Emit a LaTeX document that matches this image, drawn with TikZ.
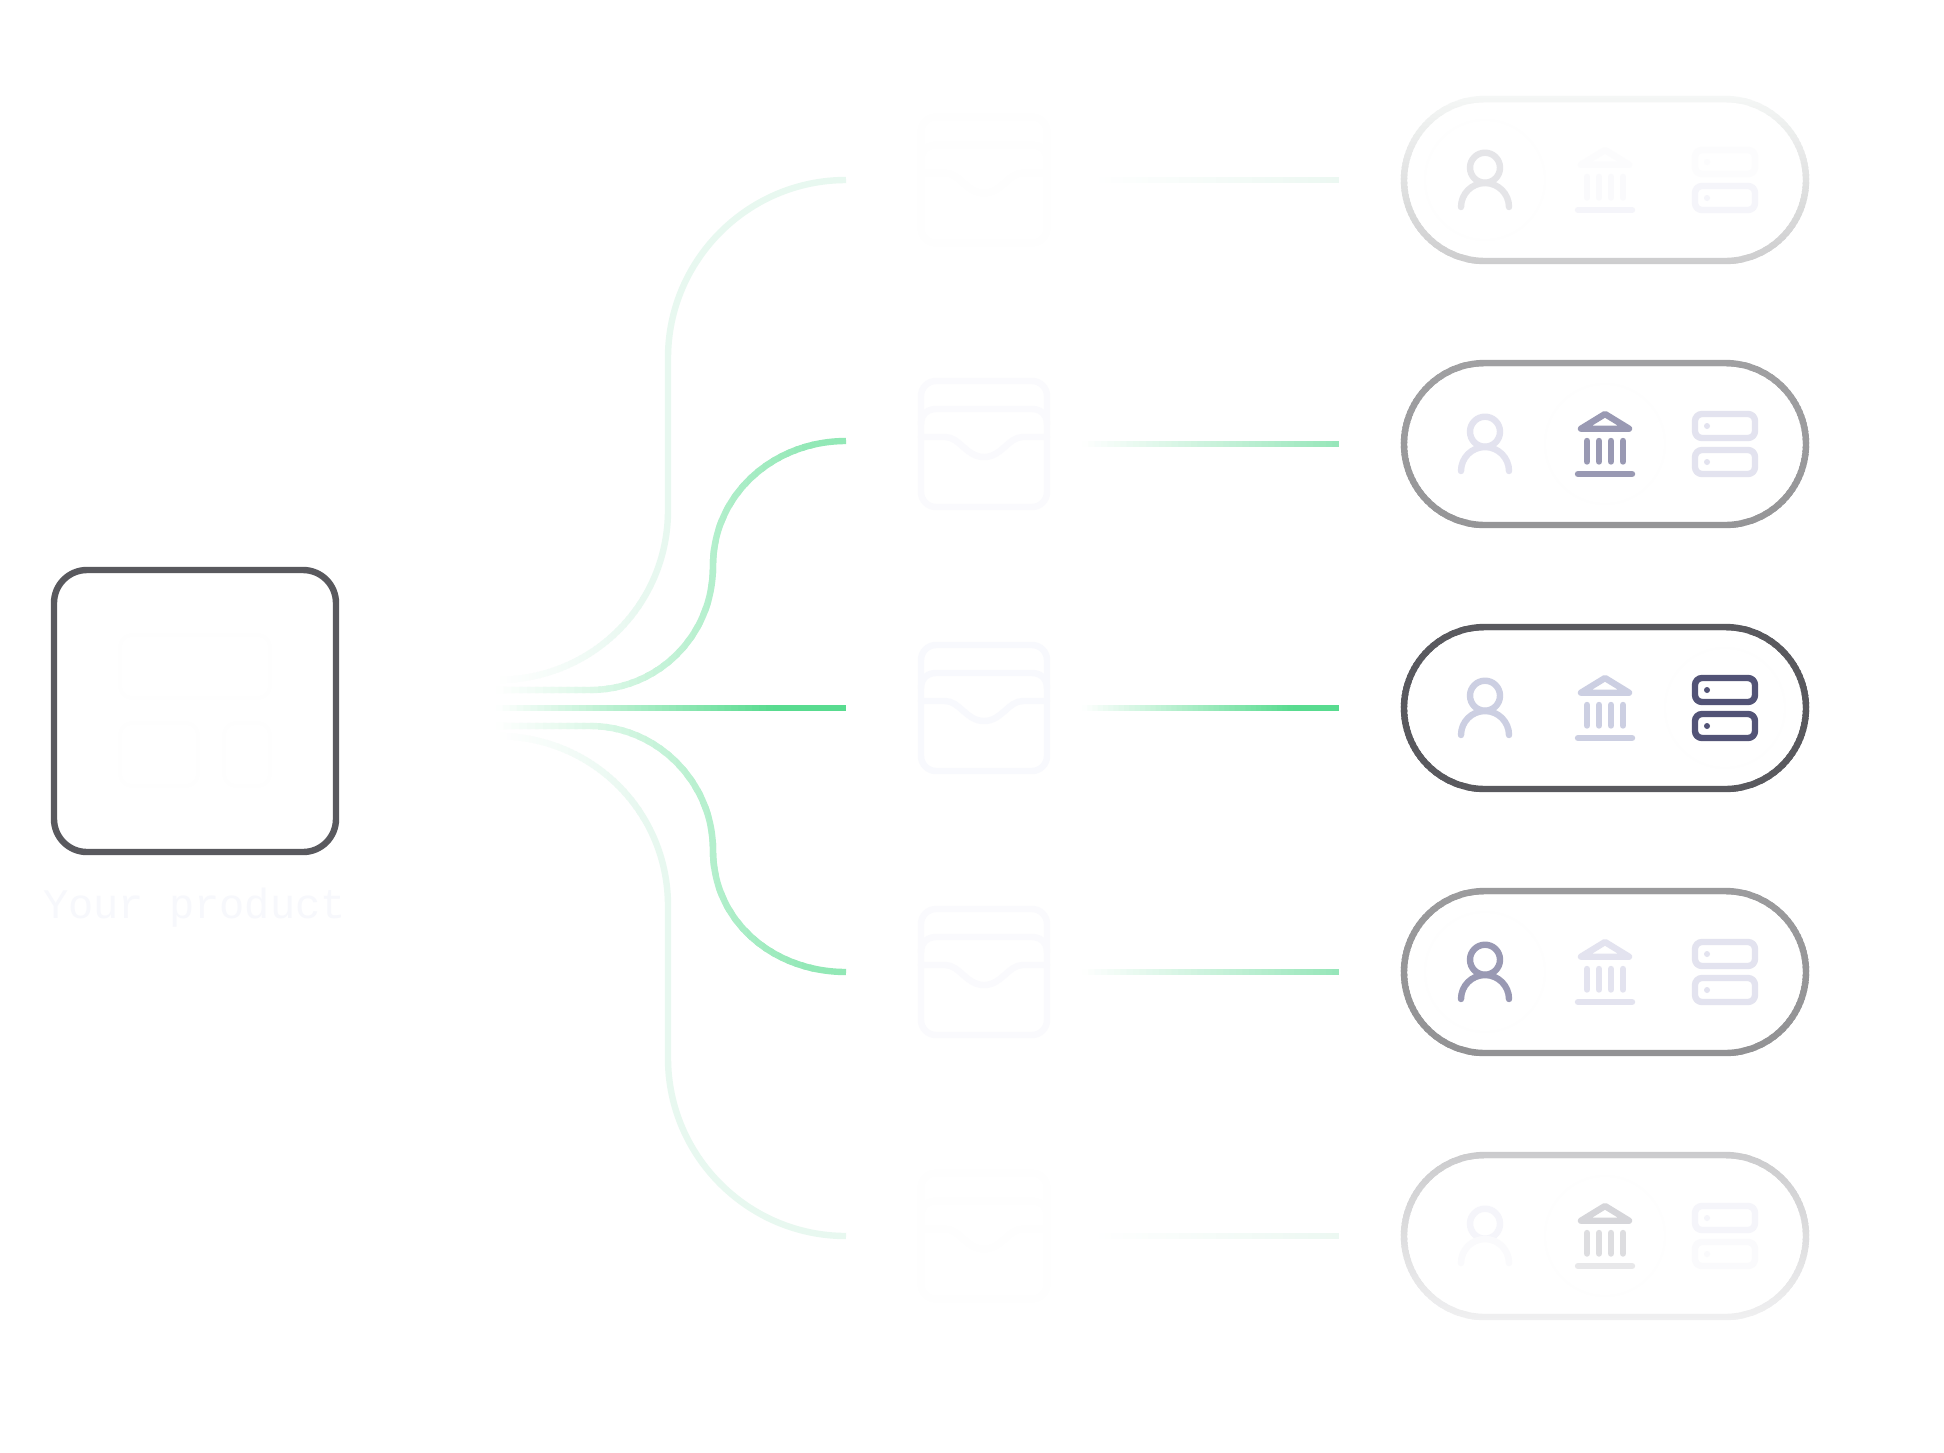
\documentclass[tikz,border=0pt]{standalone}
\usepackage{fontspec}
\setmonofont{Liberation Mono}
\usetikzlibrary{calc}
\definecolor{gFull}{HTML}{58DB8F}
\definecolor{gMid}{HTML}{92E8B6}
\definecolor{gMidR}{HTML}{96E6B9}
\definecolor{gPale}{HTML}{E8F8F0}
\definecolor{gPaleR}{HTML}{ECF8F2}
\definecolor{boxEdge}{HTML}{59595E}
\definecolor{txtGhost}{HTML}{F7F8FC}
\definecolor{icA}{HTML}{525376}
\definecolor{icB}{HTML}{9999B3}
\definecolor{icC}{HTML}{CCCFE2}
\definecolor{icD}{HTML}{E3E3EF}
\definecolor{icE}{HTML}{F5F5FA}
\definecolor{icF}{HTML}{FAFAFC}
\definecolor{icG}{HTML}{FCFCFD}
\definecolor{icH}{HTML}{E5E5E8}
\definecolor{icI}{HTML}{D6D6DA}
\definecolor{icJ}{HTML}{E8E8EA}
\definecolor{wallA}{HTML}{FEFEFE}
\definecolor{wallB}{HTML}{FAFAFD}
\definecolor{wallC}{HTML}{F8F9FD}
\definecolor{halo}{HTML}{FEFEFE}
\definecolor{pA}{HTML}{F5F7F6}
\definecolor{pB}{HTML}{CDCDCE}
\definecolor{pC}{HTML}{A0A0A2}
\definecolor{pD}{HTML}{959597}
\definecolor{pE}{HTML}{9B9B9D}
\definecolor{pF}{HTML}{929294}
\definecolor{pG}{HTML}{CBCBCD}
\definecolor{pH}{HTML}{F0F0F1}
\tikzset{
  conn/.style={line width=6.4pt},
  icon/.style={line width=6.4pt,line cap=round,line join=round},
  pillbox/.style={inner sep=0pt,outer sep=0pt,minimum width=402pt,minimum height=162pt},
  productbox/.style={draw=boxEdge,line width=6.4pt,rounded corners=33pt,inner sep=0pt,outer sep=0pt,minimum width=282pt,minimum height=282pt},
  halo ring/.style={draw=halo,line width=1.5pt},
  ghost tile/.style={draw=halo,line width=3pt,rounded corners=12pt},
  caption/.style={anchor=base west,inner sep=0pt,text=txtGhost,font=\ttfamily\fontsize{42}{50}\selectfont}
}
% connector whose colour fades in from white between x=#1 and x=#2
\newcommand\fadeconn[4]{%
  \foreach \i in {0,...,39}{%
    \pgfmathsetmacro\xa{#1+(#2-#1)*\i/40}%
    \pgfmathsetmacro\xb{#1+(#2-#1)*(\i+1.4)/40}%
    \pgfmathsetmacro\pct{(\i+0.5)*2.5}%
    \begin{scope}
      \clip (\xa,0) rectangle (\xb,1452);
      \draw[conn,draw=#3!\pct!white] #4;
    \end{scope}
  }%
  \begin{scope}
    \clip (#2,0) rectangle (1944,1452);
    \draw[conn,draw=#3] #4;
  \end{scope}%
}
% centre line of a pill, around (0,0)
\def\stadium{(-120,-81) -- (120,-81) .. controls (164.7,-81) and (201,-44.7) .. (201,0)
  .. controls (201,44.7) and (164.7,81) .. (120,81) -- (-120,81)
  .. controls (-164.7,81) and (-201,44.7) .. (-201,0)
  .. controls (-201,-44.7) and (-164.7,-81) .. (-120,-81) -- cycle}
% ring of a pill node, banded from top to bottom: #1 node, #2 top colour, #3 bottom colour
\newcommand\pillring[3]{%
  \begin{scope}[shift={(#1.center)}]
    \foreach \i in {0,...,42}{%
      \pgfmathsetmacro\ya{-86+4*\i}%
      \pgfmathsetmacro\yb{\ya+5.2}%
      \pgfmathsetmacro\pct{100-\i*100/42}%
      \begin{scope}
        \clip (-210,\ya) rectangle (210,\yb);
        \draw[conn,draw=#2!\pct!#3] \stadium;
      \end{scope}
    }%
  \end{scope}%
}
% person: centre y, head colour, body colour
\newcommand\personicon[3]{%
  \begin{scope}[shift={(1485,#1)}]
    \draw[icon,draw=#2] (0,-12.3) circle[radius=15];
    \draw[icon,draw=#3] (-24,27) .. controls (-24,13.8) and (-13.25,3) .. (0,3)
      .. controls (13.25,3) and (24,13.8) .. (24,27);
  \end{scope}%
}
% bank: centre y, roof, columns, base
\newcommand\bankicon[4]{%
  \begin{scope}[shift={(1605,#1)}]
    \draw[icon,draw=#2] (-24,-15.3) -- (0,-30) -- (24,-15.3) -- cycle;
    \foreach \cx in {-18,-6,6,18}{\draw[icon,draw=#3] (\cx,-3) -- (\cx,17.5);}
    \draw[icon,draw=#4] (-27,30) -- (27,30);
  \end{scope}%
}
% server: centre y, top rack, bottom rack
\newcommand\servericon[3]{%
  \begin{scope}[shift={(1725,#1)}]
    \draw[icon,draw=#2,rounded corners=7pt] (-30,-30) rectangle (30,-6);
    \fill[#2] (-18,-18) circle[radius=3];
    \draw[icon,draw=#3,rounded corners=7pt] (-30,6) rectangle (30,30);
    \fill[#3] (-18,18) circle[radius=3];
  \end{scope}%
}
% wallet: centre y, colour
\newcommand\walleticon[2]{%
  \begin{scope}[shift={(984,#1)}]
    \draw[icon,draw=#2,rounded corners=15pt] (-63,-63) rectangle (63,63);
    \draw[icon,draw=#2] (-63,-20) .. controls (-63,-29) and (-57,-35) .. (-48,-35) -- (48,-35)
      .. controls (57,-35) and (63,-29) .. (63,-20);
    \draw[icon,draw=#2] (-63,-7) -- (-39,-7) .. controls (-24,-7) and (-18,13) .. (0,13)
      .. controls (18,13) and (24,-7) .. (39,-7) -- (63,-7);
  \end{scope}%
}
\begin{document}
\begin{tikzpicture}[x=1pt,y=-1pt]
\useasboundingbox (0,0) rectangle (1944,1452);
\fill[white] (0,0) rectangle (1944,1452);

% product
\node[productbox] (product) at (195,711) {};
\draw[ghost tile] (120,635) rectangle (270,698);
\draw[ghost tile] (120,723) rectangle (198,786);
\draw[ghost tile] (224,723) rectangle (270,786);
\node[caption] (label) at (43,918) {Your product};

% connector ends
\coordinate (s1) at (497,680);
\coordinate (s2) at (496,690);
\coordinate (s3) at (496,708);
\coordinate (s4) at (496,726);
\coordinate (s5) at (497,736);
\coordinate (e1) at (846,180);
\coordinate (e2) at (846,441);
\coordinate (e3) at (846,708);
\coordinate (e4) at (846,972);
\coordinate (e5) at (846,1236);
\coordinate (a1) at (1093,180);
\coordinate (b1) at (1339,180);
\coordinate (a2) at (1082,444);
\coordinate (b2) at (1339,444);
\coordinate (a3) at (1082,708);
\coordinate (b3) at (1339,708);
\coordinate (a4) at (1082,972);
\coordinate (b4) at (1339,972);
\coordinate (a5) at (1093,1236);
\coordinate (b5) at (1339,1236);

% left connectors
\fadeconn{497}{640}{gPale}{(s1) .. controls (593,680) and (668,604) .. (668,510) -- (668,358) .. controls (668,260) and (748,180) .. (e1)}
\fadeconn{497}{640}{gPale}{(s5) .. controls (593,736) and (668,812) .. (668,906) -- (668,1058) .. controls (668,1156) and (748,1236) .. (e5)}
\fadeconn{496}{810}{gMid}{(s2) -- (590,690) .. controls (658,690) and (713,636) .. (713,566) .. controls (713,495) and (773,441) .. (e2)}
\fadeconn{496}{810}{gMid}{(s4) -- (590,726) .. controls (658,726) and (713,783) .. (713,850) .. controls (713,921) and (773,972) .. (e4)}
\fadeconn{496}{773}{gFull}{(s3) -- (e3)}

% right connectors
\fadeconn{1093}{1339}{gPaleR}{(a1) -- (b1)}
\fadeconn{1082}{1339}{gMidR}{(a2) -- (b2)}
\fadeconn{1082}{1293}{gFull}{(a3) -- (b3)}
\fadeconn{1082}{1339}{gMidR}{(a4) -- (b4)}
\fadeconn{1093}{1339}{gPaleR}{(a5) -- (b5)}

% wallets
\walleticon{180}{wallA}
\walleticon{444}{wallB}
\walleticon{708}{wallC}
\walleticon{972}{wallB}
\walleticon{1236}{wallA}

% pills
\node[pillbox] (p1) at (1605,180) {};
\node[pillbox] (p2) at (1605,444) {};
\node[pillbox] (p3) at (1605,708) {};
\node[pillbox] (p4) at (1605,972) {};
\node[pillbox] (p5) at (1605,1236) {};
\pillring{p1}{pA}{pB}
\pillring{p2}{pC}{pD}
\pillring{p3}{boxEdge}{boxEdge}
\pillring{p4}{pE}{pF}
\pillring{p5}{pG}{pH}

% selection rings
\draw[halo ring] (1485,180) circle[radius=60];
\draw[halo ring] (1605,444) circle[radius=60];
\draw[halo ring] (1725,708) circle[radius=60];
\draw[halo ring] (1485,972) circle[radius=60];
\draw[halo ring] (1605,1236) circle[radius=60];

% icons
\personicon{180}{icH}{icH}
\bankicon{180}{icG}{icF}{icE}
\servericon{180}{icG}{icE}

\personicon{444}{icD}{icD}
\bankicon{444}{icB}{icB}{icB}
\servericon{444}{icD}{icD}

\personicon{708}{icC}{icC}
\bankicon{708}{icC}{icC}{icC}
\servericon{708}{icA}{icA}

\personicon{972}{icB}{icB}
\bankicon{972}{icD}{icD}{icD}
\servericon{972}{icD}{icD}

\personicon{1236}{icE}{icF}
\bankicon{1236}{icI}{icI!60!icJ}{icJ}
\servericon{1236}{icE}{icF}
\end{tikzpicture}
\end{document}
